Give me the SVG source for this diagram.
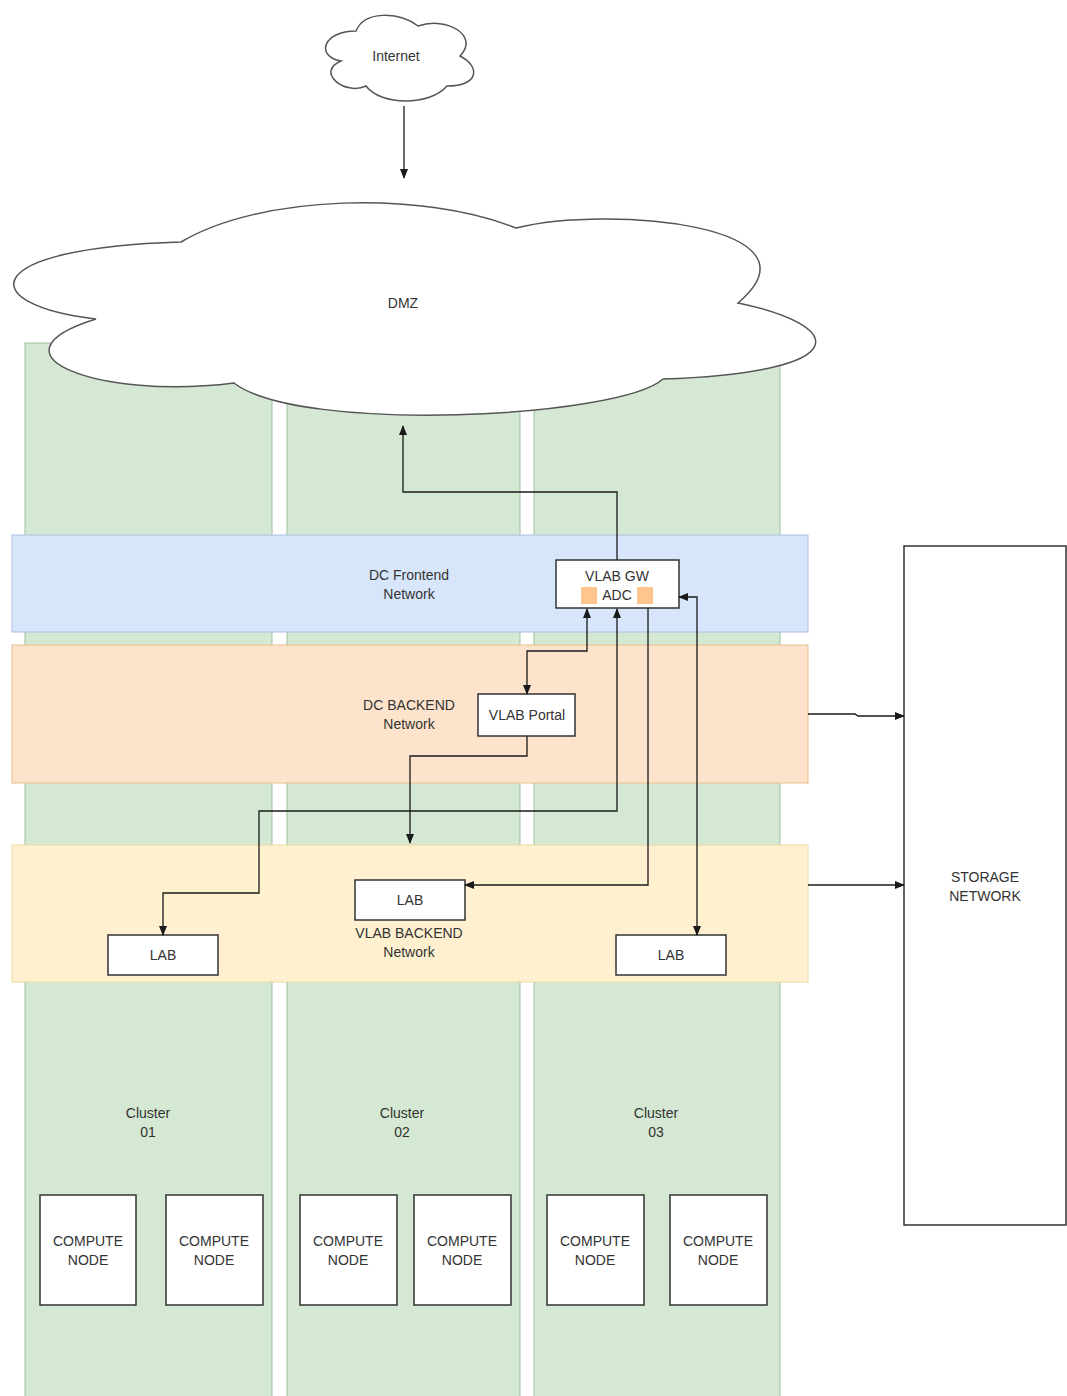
<svg xmlns="http://www.w3.org/2000/svg" width="1067" height="1396" viewBox="0 0 1067 1396">
  <defs>
    <marker id="arrow" viewBox="0 0 10 10" refX="9" refY="5" markerWidth="10" markerHeight="10" markerUnits="userSpaceOnUse" orient="auto-start-reverse">
      <path d="M0,1 L10,5 L0,9 Z" fill="#1a1a1a"/>
    </marker>
  </defs>
  <style>
    text { font-family: "Liberation Sans", Arial, Helvetica, sans-serif; font-size: 14px; fill: #333333; text-anchor: middle; }
    .cluster { fill: #d5e8d4; stroke: #9cc39a; stroke-width: 1; }
    .box { fill: #ffffff; stroke: #333333; stroke-width: 1.5; }
    .cloud { fill: #ffffff; stroke: #555555; stroke-width: 1.5; }
    .conn { fill: none; stroke: #1a1a1a; stroke-width: 1.3; }
  </style>

  <rect width="1067" height="1396" fill="#ffffff"/>

  <!-- cluster columns -->
  <g id="cluster-01">
    <rect class="cluster" x="25" y="343" width="247" height="1060"/>
    <text x="148" y="1118">Cluster</text>
    <text x="148" y="1137">01</text>
  </g>
  <g id="cluster-02">
    <rect class="cluster" x="287" y="343" width="233" height="1060"/>
    <text x="402" y="1118">Cluster</text>
    <text x="402" y="1137">02</text>
  </g>
  <g id="cluster-03">
    <rect class="cluster" x="534" y="343" width="246" height="1060"/>
    <text x="656" y="1118">Cluster</text>
    <text x="656" y="1137">03</text>
  </g>

  <!-- network bands -->
  <g id="dc-frontend">
    <rect x="12" y="535" width="796" height="97" fill="#d8e6fb" stroke="#a9bfdf" stroke-width="1"/>
    <text x="409" y="580">DC Frontend</text>
    <text x="409" y="599">Network</text>
  </g>
  <g id="dc-backend">
    <rect x="12" y="645" width="796" height="138" fill="#fde3cb" stroke="#e7c08a" stroke-width="1"/>
    <text x="409" y="710">DC BACKEND</text>
    <text x="409" y="729">Network</text>
  </g>
  <g id="vlab-backend">
    <rect x="12" y="845" width="796" height="137" fill="#fff1cf" stroke="#ecd9a0" stroke-width="1"/>
    <text x="409" y="938">VLAB BACKEND</text>
    <text x="409" y="957">Network</text>
  </g>

  <!-- clouds -->
  <g id="internet">
    <path class="cloud" d="M356,31 C323,31 315,56 341,61 C315,72 345,96 366,86 C381,106 430,106 447,86 C480,86 480,66 460,56 C480,36 447,16 418,26 C398,11 364,11 356,31 Z"/>
    <text x="396" y="61">Internet</text>
  </g>
  <g id="dmz">
    <path class="cloud" d="M181,242 C260,195 420,190 516,228 C610,205 830,225 738,303 C845,325 860,372 663,379 C620,418 300,434 234,383 C100,400 -20,355 96,319 C-25,305 -25,248 181,242 Z"/>
    <text x="403" y="308">DMZ</text>
  </g>

  <!-- storage -->
  <g id="storage-network">
    <rect class="box" x="904" y="546" width="162" height="679"/>
    <text x="985" y="882">STORAGE</text>
    <text x="985" y="901">NETWORK</text>
  </g>

  <!-- service nodes -->
  <g id="vlab-gw">
    <rect class="box" x="556" y="560" width="123" height="48"/>
    <rect x="581" y="587" width="16" height="17" fill="#ffc58f"/>
    <rect x="637" y="587" width="16" height="17" fill="#ffc58f"/>
    <text x="617" y="581">VLAB GW</text>
    <text x="617" y="600">ADC</text>
  </g>
  <g id="vlab-portal">
    <rect class="box" x="478" y="694" width="97" height="42"/>
    <text x="527" y="720">VLAB Portal</text>
  </g>
  <g id="lab-middle">
    <rect class="box" x="355" y="880" width="110" height="40"/>
    <text x="410" y="905">LAB</text>
  </g>
  <g id="lab-left">
    <rect class="box" x="108" y="935" width="110" height="40"/>
    <text x="163" y="960">LAB</text>
  </g>
  <g id="lab-right">
    <rect class="box" x="616" y="935" width="110" height="40"/>
    <text x="671" y="960">LAB</text>
  </g>

  <!-- compute nodes -->
  <g id="compute-01a"><rect class="box" x="40" y="1195" width="96" height="110"/><text x="88" y="1246">COMPUTE</text><text x="88" y="1265">NODE</text></g>
  <g id="compute-01b"><rect class="box" x="166" y="1195" width="97" height="110"/><text x="214" y="1246">COMPUTE</text><text x="214" y="1265">NODE</text></g>
  <g id="compute-02a"><rect class="box" x="300" y="1195" width="97" height="110"/><text x="348" y="1246">COMPUTE</text><text x="348" y="1265">NODE</text></g>
  <g id="compute-02b"><rect class="box" x="414" y="1195" width="97" height="110"/><text x="462" y="1246">COMPUTE</text><text x="462" y="1265">NODE</text></g>
  <g id="compute-03a"><rect class="box" x="547" y="1195" width="97" height="110"/><text x="595" y="1246">COMPUTE</text><text x="595" y="1265">NODE</text></g>
  <g id="compute-03b"><rect class="box" x="670" y="1195" width="97" height="110"/><text x="718" y="1246">COMPUTE</text><text x="718" y="1265">NODE</text></g>

  <!-- connectors -->
  <g id="connectors">
    <path class="conn" d="M404,106 V178" marker-end="url(#arrow)"/>
    <path class="conn" d="M617,560 V492 H403 V426" marker-end="url(#arrow)"/>
    <path class="conn" d="M587,609 V651 H527 V694" marker-start="url(#arrow)" marker-end="url(#arrow)"/>
    <path class="conn" d="M527,736 V756 H410 V843" marker-end="url(#arrow)"/>
    <path class="conn" d="M617,609 V811 H259 V893 H163 V935" marker-start="url(#arrow)" marker-end="url(#arrow)"/>
    <path class="conn" d="M648,608 V885 H465" marker-end="url(#arrow)"/>
    <path class="conn" d="M679,597 H697 V935" marker-start="url(#arrow)" marker-end="url(#arrow)"/>
    <path class="conn" d="M808,714 H855 L858,716 H904" marker-end="url(#arrow)"/>
    <path class="conn" d="M808,885 H904" marker-end="url(#arrow)"/>
  </g>
</svg>
